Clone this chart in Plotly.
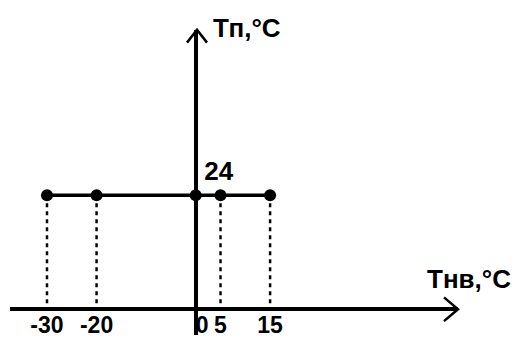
import plotly.graph_objects as go

# данные
t_nv = [-30, -20, 0, 5, 15]          # температура наружного воздуха
t_p = [24, 24, 24, 24, 24]           # температура помещения
x_ticks = [-30, -20, 0, 5, 15]
x_ticktext = ["-30", "-20", "\u00a0\u00a00", "5", "15"]

W, H = 513, 338
font = dict(family="Liberation Sans", size=26, color="black", weight="bold")
tick_font = dict(family="Liberation Sans", size=23, color="black", weight="bold")

# пунктирные вертикали от точек к оси
vx, vy = [], []
for x, y in zip(t_nv, t_p):
    vx += [x, x, None]
    vy += [y, 0, None]

fig = go.Figure()

fig.add_trace(go.Scatter(
    x=vx, y=vy, mode="lines",
    line=dict(color="black", width=2.5, dash="4px,4px"),
    hoverinfo="skip"
))

fig.add_trace(go.Scatter(
    x=t_nv, y=t_p, mode="lines+markers+text",
    line=dict(color="black", width=3.5),
    marker=dict(color="black", size=12),
    text=[str(v) if x == 0 else "" for x, v in zip(t_nv, t_p)],
    textposition="top right",
    textfont=font
))

# стрелки осей
def px(x):
    return x / W

def py(y):
    return 1 - y / H

shapes = [
    dict(type="path", xref="paper", yref="paper",
         path=f"M {px(444)} {py(300)} L {px(458)} {py(312)} L {px(444)} {py(324)}",
         line=dict(color="black", width=2.5)),
    dict(type="path", xref="paper", yref="paper",
         path=f"M {px(187)} {py(43)} L {px(197)} {py(30)} L {px(207)} {py(43)}",
         line=dict(color="black", width=2.5)),
]

fig.update_layout(
    width=W, height=H,
    margin=dict(l=0, r=0, t=0, b=0),
    plot_bgcolor="white",
    paper_bgcolor="white",
    showlegend=False,
    shapes=shapes,
    xaxis=dict(
        domain=[10 / W, 458 / W],
        range=[-37.46, 52.9],
        showgrid=False,
        zeroline=True, zerolinecolor="black", zerolinewidth=4,
        tickvals=x_ticks, ticktext=x_ticktext,
        tickfont=tick_font,
        ticks="", ticklen=0,
        anchor="free", position=26 / H,
        showline=False
    ),
    yaxis=dict(
        domain=[0, 1 - 30 / H],
        range=[-5.43, 58.85],
        showgrid=False,
        showticklabels=False,
        zeroline=True, zerolinecolor="black", zerolinewidth=3.5
    ),
    annotations=[
        dict(text="Тп,°С", xref="paper", yref="paper",
             x=px(211), y=py(28), xanchor="left", yanchor="middle",
             showarrow=False, font=font),
        dict(text="Тнв,°С", xref="paper", yref="paper",
             x=1, y=py(281), xanchor="right", yanchor="middle",
             showarrow=False, font=font),
    ]
)

# убрать отступ body, чтобы график начинался с угла окна
fig.write_html("out.html", config={"displayModeBar": False},
               post_script="document.body.style.margin='0';")
